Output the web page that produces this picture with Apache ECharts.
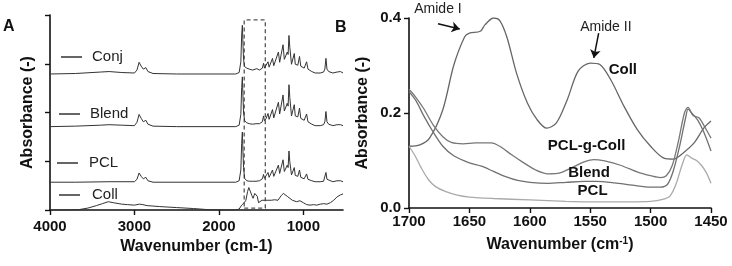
<!DOCTYPE html>
<html>
<head>
<meta charset="utf-8">
<script src="https://cdn.jsdelivr.net/npm/echarts@6/dist/echarts.min.js"></script>
<style>
  html, body { margin: 0; padding: 0; background: #fff; }
  #chart { width: 732px; height: 266px; }
</style>
</head>
<body>
<div id="chart"></div>
<script>
// panel A: spectra, relative to each trace's own baseline
const conjA = [[4000,0],[3700,0.01],[3400,0.04],[3300,0.05],[3150,0.03],[3000,0.02],[2970,0.08],[2945,0.24],[2920,0.16],[2895,0.1],[2865,0.13],[2840,0.05],[2780,0.01],[2500,0],[1800,0],[1760,0.03],[1740,0.25],[1730,0.8],[1722,1.0],[1716,0.7],[1708,0.3],[1695,0.15],[1670,0.12],[1640,0.1],[1600,0.08],[1580,0.1],[1550,0.11],[1520,0.08],[1500,0.1],[1485,0.12],[1471,0.22],[1460,0.12],[1440,0.16],[1418,0.25],[1405,0.14],[1385,0.15],[1365,0.32],[1350,0.17],[1330,0.2],[1295,0.45],[1280,0.24],[1260,0.26],[1240,0.6],[1225,0.3],[1205,0.32],[1190,0.45],[1180,0.4],[1170,0.79],[1160,0.55],[1140,0.2],[1125,0.2],[1107,0.42],[1095,0.2],[1065,0.18],[1045,0.36],[1030,0.16],[990,0.12],[961,0.25],[945,0.1],[900,0.05],[860,0.02],[840,0.05],[800,0.02],[760,0.04],[745,0.1],[732,0.32],[720,0.1],[700,0.05],[650,0.02],[600,0.04],[580,0.08],[560,0.05],[530,0.02]]
const blendA = [[4000,0],[3700,0.01],[3400,0.03],[3300,0.04],[3150,0.03],[3000,0.02],[2970,0.09],[2945,0.25],[2920,0.17],[2895,0.1],[2865,0.13],[2840,0.05],[2780,0.01],[2500,0],[1800,0],[1760,0.03],[1740,0.25],[1730,0.8],[1722,1.02],[1716,0.7],[1708,0.3],[1695,0.12],[1670,0.08],[1640,0.06],[1600,0.05],[1560,0.06],[1520,0.06],[1500,0.08],[1485,0.1],[1471,0.22],[1460,0.12],[1440,0.17],[1418,0.27],[1405,0.15],[1385,0.16],[1365,0.35],[1350,0.18],[1330,0.22],[1295,0.5],[1280,0.26],[1260,0.28],[1240,0.65],[1225,0.32],[1205,0.34],[1190,0.48],[1180,0.42],[1170,0.86],[1160,0.6],[1140,0.22],[1125,0.22],[1107,0.45],[1095,0.22],[1065,0.2],[1045,0.38],[1030,0.17],[990,0.13],[961,0.26],[945,0.1],[900,0.05],[860,0.02],[840,0.05],[800,0.02],[760,0.04],[745,0.1],[732,0.31],[720,0.1],[700,0.05],[650,0.02],[600,0.04],[580,0.07],[560,0.04],[530,0.02]]
const pclA = [[4000,0],[3700,0],[3300,0.01],[3000,0.01],[2970,0.06],[2945,0.19],[2920,0.12],[2895,0.07],[2865,0.1],[2840,0.03],[2780,0],[1800,0],[1760,0.03],[1740,0.25],[1730,0.8],[1722,1.03],[1716,0.7],[1708,0.3],[1695,0.08],[1670,0.03],[1640,0.02],[1600,0.02],[1560,0.02],[1520,0.03],[1500,0.05],[1485,0.07],[1471,0.16],[1460,0.08],[1440,0.12],[1418,0.2],[1405,0.1],[1385,0.11],[1365,0.25],[1350,0.12],[1330,0.15],[1295,0.35],[1280,0.18],[1260,0.2],[1240,0.46],[1225,0.22],[1205,0.24],[1190,0.35],[1180,0.3],[1170,0.64],[1160,0.42],[1140,0.15],[1125,0.15],[1107,0.3],[1095,0.14],[1065,0.12],[1045,0.25],[1030,0.1],[990,0.07],[961,0.17],[945,0.06],[900,0.03],[860,0.01],[840,0.03],[800,0.01],[760,0.02],[745,0.06],[732,0.2],[720,0.06],[700,0.03],[650,0.01],[600,0.03],[580,0.05],[560,0.03],[530,0.01]]
const collA = [[4000,0],[3800,0],[3650,0.01],[3550,0.04],[3450,0.09],[3380,0.13],[3310,0.17],[3250,0.15],[3150,0.12],[3080,0.11],[3000,0.1],[2940,0.12],[2900,0.11],[2850,0.09],[2700,0.07],[2500,0.05],[2300,0.03],[2150,0.01],[2000,0],[1800,0],[1760,0.02],[1730,0.1],[1700,0.15],[1680,0.2],[1660,0.38],[1645,0.46],[1630,0.44],[1610,0.3],[1595,0.24],[1575,0.34],[1560,0.35],[1545,0.28],[1530,0.15],[1510,0.17],[1490,0.2],[1470,0.22],[1450,0.2],[1420,0.2],[1400,0.22],[1380,0.2],[1340,0.21],[1300,0.2],[1260,0.3],[1236,0.34],[1215,0.32],[1190,0.28],[1170,0.27],[1130,0.2],[1080,0.17],[1040,0.19],[1000,0.15],[960,0.11],[920,0.1],[880,0.11],[840,0.1],[800,0.12],[760,0.13],[720,0.12],[680,0.15],[640,0.2],[600,0.27],[560,0.31],[530,0.33]]
const offsetsA = { Conj: 2.79, Blend: 1.71, PCL: 0.57, Coll: 0 }
const ticksA = [1000, 2000, 3000, 4000]

// panel B: 1700-1450 cm-1 close-up
const collB = [[1700,0.13],[1691,0.133],[1683,0.147],[1672,0.207],[1663,0.3],[1654,0.36],[1650,0.368],[1641,0.372],[1637,0.386],[1630,0.4],[1625,0.395],[1619,0.36],[1611,0.284],[1602,0.221],[1594,0.186],[1586,0.168],[1578,0.179],[1569,0.228],[1560,0.288],[1550,0.305],[1542,0.302],[1533,0.27],[1522,0.214],[1511,0.165],[1500,0.13],[1489,0.105],[1481,0.103],[1473,0.116],[1464,0.137],[1456,0.168],[1450,0.183]]
const conjB = [[1700,0.25],[1695,0.235],[1688,0.21],[1680,0.175],[1672,0.15],[1665,0.138],[1655,0.135],[1645,0.137],[1632,0.137],[1625,0.13],[1615,0.112],[1605,0.095],[1595,0.08],[1585,0.072],[1575,0.074],[1565,0.085],[1555,0.097],[1547,0.102],[1538,0.099],[1525,0.09],[1510,0.075],[1500,0.068],[1492,0.064],[1487,0.068],[1482,0.09],[1477,0.14],[1472,0.2],[1469,0.212],[1465,0.195],[1460,0.19],[1455,0.17],[1450,0.147]]
const blendB = [[1700,0.245],[1694,0.225],[1688,0.195],[1680,0.16],[1672,0.13],[1663,0.11],[1650,0.095],[1640,0.088],[1630,0.077],[1620,0.066],[1610,0.058],[1600,0.054],[1585,0.052],[1570,0.054],[1555,0.056],[1545,0.056],[1530,0.053],[1515,0.048],[1500,0.044],[1492,0.044],[1486,0.05],[1481,0.08],[1476,0.13],[1471,0.19],[1469,0.208],[1466,0.2],[1461,0.185],[1456,0.16],[1450,0.12]]
const pclB = [[1700,0.13],[1695,0.11],[1690,0.085],[1684,0.06],[1678,0.045],[1670,0.035],[1660,0.027],[1650,0.023],[1630,0.02],[1600,0.017],[1570,0.014],[1550,0.013],[1520,0.013],[1500,0.014],[1490,0.018],[1484,0.025],[1479,0.05],[1474,0.09],[1470,0.112],[1466,0.105],[1462,0.1],[1458,0.09],[1454,0.075],[1450,0.052]]

const font = '"Liberation Sans", Arial, sans-serif'
const ink = '#111'

function legendItem(name, left, y, pad) {
    return {
        data: [name], left: left, top: y - 8, padding: 0,
        icon: 'rect', itemWidth: 21, itemHeight: 1.5,
        itemStyle: { color: '#333', borderWidth: 0 },
        selectedMode: false,
        textStyle: { fontFamily: font, fontSize: 15, color: '#222', lineHeight: 16, padding: [0, 0, 0, pad] }
    }
}

function specA(name, d) {
    return {
        name: name, type: 'line', xAxisIndex: 0, yAxisIndex: 0,
        data: d.map(p => [p[0], p[1] + offsetsA[name]]),
        symbol: 'none', color: '#333',
        lineStyle: { width: 1, color: '#333' }
    }
}

function label(text, coord, color) {
    return {
        coord: coord, value: text,
        label: { show: true, position: 'inside', formatter: text, fontFamily: font, fontSize: 15, fontWeight: 'bold', color: color || '#111' }
    }
}

function specB(name, d, color, lab) {
    return {
        name: name, type: 'line', xAxisIndex: 1, yAxisIndex: 1,
        data: d, symbol: 'none', smooth: 0.3,
        lineStyle: { width: 1.3, color: color }, color: color,
        markPoint: {
            symbol: 'rect', symbolSize: 1, itemStyle: { color: 'transparent' }, silent: true,
            data: [label(lab[0], lab[1])]
        }
    }
}

const axisCommon = {
    axisLine: { show: true, lineStyle: { color: ink, width: 1.6 } },
    axisTick: { show: true, inside: false, length: 5, lineStyle: { color: ink, width: 1.4 } },
    splitLine: { show: false },
    nameTextStyle: { fontFamily: font, fontSize: 16, fontWeight: 'bold', color: ink }
}

const option = {
    animation: false,
    backgroundColor: '#fff',
    grid: [
        { left: 50, top: 15, width: 293, height: 195 },
        { left: 409, top: 18, width: 302, height: 190 }
    ],
    legend: [
        legendItem('Conj', 61, 57, 5),
        legendItem('Blend', 59, 114, 5),
        legendItem('PCL', 57, 163, 6),
        legendItem('Coll', 59, 195, 7)
    ],
    xAxis: [
        Object.assign({}, axisCommon, {
            gridIndex: 0, type: 'value', inverse: true, min: 530, max: 4000,
            name: 'Wavenumber (cm-1)', nameLocation: 'middle', nameGap: 29,
            axisTick: Object.assign({}, axisCommon.axisTick, { customValues: ticksA }),
            axisLabel: { customValues: ticksA, margin: 9, fontFamily: font, fontSize: 15, fontWeight: 'bold', color: ink, formatter: v => String(v) }
        }),
        Object.assign({}, axisCommon, {
            gridIndex: 1, type: 'value', inverse: true, min: 1450, max: 1700, interval: 50,
            name: 'Wavenumber (cm{s|-1})', nameLocation: 'middle', nameGap: 28,
            nameTextStyle: Object.assign({}, axisCommon.nameTextStyle, {
                rich: { s: { fontFamily: font, fontSize: 10, fontWeight: 'bold', color: ink, verticalAlign: 'top', padding: [0, 0, 8, 0] } }
            }),
            axisLabel: { margin: 6, fontFamily: font, fontSize: 15, fontWeight: 'bold', color: ink, showMinLabel: true, showMaxLabel: true, formatter: v => String(v) }
        })
    ],
    yAxis: [
        Object.assign({}, axisCommon, {
            gridIndex: 0, type: 'value', min: 0, max: 4, interval: 1,
            name: 'Absorbance (-)', nameLocation: 'middle', nameGap: 14,
            axisLabel: { show: false }
        }),
        Object.assign({}, axisCommon, {
            gridIndex: 1, type: 'value', min: 0, max: 0.4, interval: 0.2,
            name: 'Absorbance (-)', nameLocation: 'middle', nameGap: 38,
            axisLabel: { margin: 8, fontFamily: font, fontSize: 15, fontWeight: 'bold', color: ink, formatter: v => v.toFixed(1) }
        })
    ],
    graphic: [
        { type: 'text', left: 3, top: 19, style: { text: 'A', font: 'bold 16px ' + font, fill: ink } },
        { type: 'text', left: 335, top: 20, style: { text: 'B', font: 'bold 16px ' + font, fill: ink } }
    ],
    series: [
        specA('Conj', conjA),
        specA('Blend', blendA),
        specA('PCL', pclA),
        Object.assign(specA('Coll', collA), {
            markArea: {
                silent: true,
                itemStyle: { color: 'transparent', borderColor: '#555', borderWidth: 1.3, borderType: [4, 3] },
                data: [[{ coord: [1700, 0.04] }, { coord: [1450, 3.9] }]]
            }
        }),
        Object.assign(specB('Coll B', collB, '#666', ['Coll', [1523, 0.29]]), {
            markLine: {
                silent: true, symbol: ['none', 'arrow'], symbolSize: 8,
                label: { show: false },
                lineStyle: { color: ink, width: 1.5, type: 'solid' },
                data: [
                    [{ coord: [1676, 0.388] }, { coord: [1658, 0.377] }],
                    [{ coord: [1543, 0.368] }, { coord: [1547, 0.316] }]
                ]
            },
            markPoint: {
                symbol: 'rect', symbolSize: 1, itemStyle: { color: 'transparent' }, silent: true,
                data: [
                    label('Coll', [1523, 0.29]),
                    { coord: [1676, 0.388], value: 'Amide I', label: { show: true, position: 'inside', offset: [0, -15], formatter: 'Amide I', fontFamily: font, fontSize: 14, color: '#222' } },
                    { coord: [1537, 0.381], value: 'Amide II', label: { show: true, position: 'inside', formatter: 'Amide II', fontFamily: font, fontSize: 14, color: '#222' } }
                ]
            }
        }),
        specB('PCL-g-Coll', conjB, '#777', ['PCL-g-Coll', [1553, 0.13]]),
        specB('Blend B', blendB, '#707070', ['Blend', [1551, 0.074]]),
        specB('PCL B', pclB, '#aaa', ['PCL', [1548, 0.036]])
    ]
}

const myChart = echarts.init(document.getElementById('chart'))
myChart.setOption(option)
</script>
</body>
</html>
